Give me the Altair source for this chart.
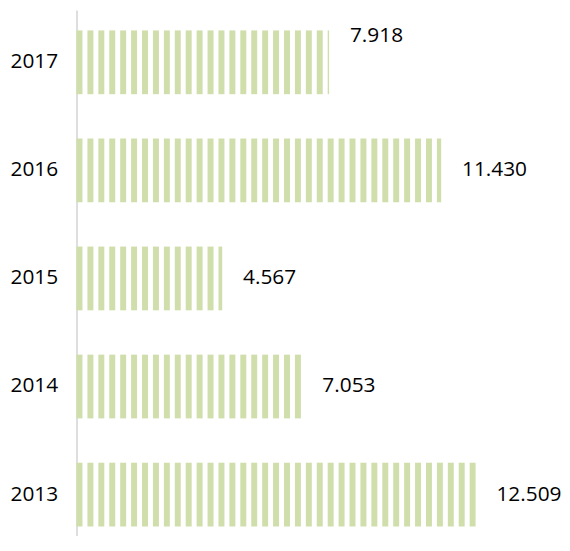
import altair as alt
import pandas as pd
import numpy as np

years = ["2017", "2016", "2015", "2014", "2013"]
values = [7.918, 11.430, 4.567, 7.053, 12.509]
label_shift = [-26, 0, 0, 0, 0]  # 2017 label sits above bar centre

# stripe styling in data units (period / stripe width)
X_MAX = 15.0
WIDTH = 482
px = WIDTH / X_MAX
period = 11 / px
stripe_w = 6 / px

rows = []
for y, v in zip(years, values):
    n = int(np.ceil(v / period))
    for k in range(n):
        s = k * period
        e = min(s + stripe_w, v)
        if e > s:
            rows.append({"year": y, "start": s, "end": e})
stripes = pd.DataFrame(rows)

labels = pd.DataFrame({"year": years, "value": values, "shift": label_shift})

yscale = alt.Scale(domain=years, range=[0, 541], paddingInner=0.41, paddingOuter=0.19)
xscale = alt.Scale(domain=[0, X_MAX], nice=False)

FONT = "Open Sans"
FS = 21

bars = alt.Chart(stripes).mark_bar(color="#cfdeab").encode(
    y=alt.Y("year:N", scale=yscale, sort=years,
            axis=alt.Axis(title=None, ticks=False, domainColor="#dedede", domainWidth=2,
                          labelFontSize=FS, labelFont=FONT, labelColor="#000000",
                          labelPadding=19)),
    x=alt.X("start:Q", scale=xscale, axis=None),
    x2="end:Q",
)

txt_main = alt.Chart(labels).transform_filter("datum.shift == 0").mark_text(
    align="left", baseline="middle", dx=21, fontSize=FS, font=FONT, color="#000000"
).encode(
    y=alt.Y("year:N", scale=yscale, sort=years),
    x=alt.X("value:Q", scale=xscale),
    text=alt.Text("value:Q", format=".3f"),
)

txt_up = alt.Chart(labels).transform_filter("datum.shift != 0").mark_text(
    align="left", baseline="middle", dx=21, dy=-26, fontSize=FS, font=FONT, color="#000000"
).encode(
    y=alt.Y("year:N", scale=yscale, sort=years),
    x=alt.X("value:Q", scale=xscale),
    text=alt.Text("value:Q", format=".3f"),
)

chart = alt.layer(bars, txt_main, txt_up).properties(
    width=WIDTH, height=528,
    padding={"left": 69, "top": 0, "right": 7, "bottom": 0},
    autosize="none",
).configure_view(stroke=None).configure_axis(grid=False)

chart.save("out.html", embed_options={"renderer": "svg", "actions": False})
